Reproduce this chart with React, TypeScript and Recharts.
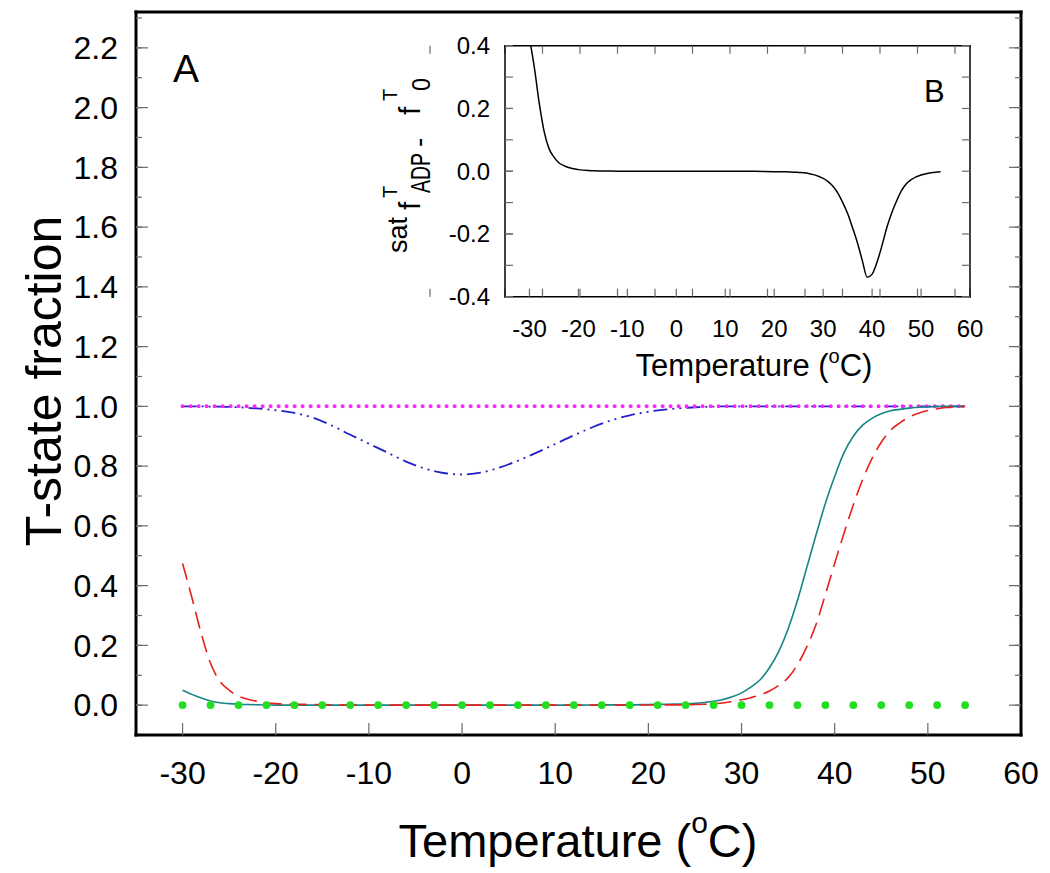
import React from "react";
import { ComposedChart, Line, XAxis, YAxis } from "recharts";

const FONT = "'Liberation Sans', Arial, Helvetica, sans-serif";

const temps = [
  -30, -29, -28, -27, -26, -25, -24, -23, -22, -21, -20,
  -18, -16, -14, -12, -10, -8, -6, -4, -2, 0, 2, 4, 6, 8, 10, 12, 14, 16, 18, 20, 22,
  24, 25, 26, 27, 28, 29, 30, 31, 32, 33, 34, 35, 36, 37, 38, 39, 40, 41, 42, 43, 44, 45, 46, 47, 48, 49, 50, 51, 52, 53, 54,
];

// panel A, teal solid
const fT0 = [
  0.05, 0.036, 0.024, 0.014, 0.008, 0.005, 0.003, 0.002, 0.001, 0.0005, 0,
  0, 0, 0, 0, 0, 0, 0, 0, 0, 0, 0, 0, 0, 0, 0, 0, 0.0005, 0.001, 0.001, 0.002, 0.003,
  0.004, 0.006, 0.009, 0.013, 0.019, 0.028, 0.041, 0.06, 0.085, 0.125, 0.18, 0.255, 0.35, 0.46, 0.57, 0.675, 0.765, 0.845, 0.9, 0.937, 0.96, 0.975, 0.985, 0.99, 0.994, 0.997, 0.998, 0.999, 1, 1, 1,
];

// panel A, red dashed
const fADP = [
  0.474, 0.36, 0.24, 0.14, 0.08, 0.05, 0.03, 0.02, 0.013, 0.008, 0.005,
  0.003, 0.002, 0.001, 0.0005, 0, 0, 0, 0, 0, 0, 0, 0, 0, 0, 0, 0, 0, 0, 0, 0.0005, 0.001,
  0.001, 0.002, 0.003, 0.005, 0.007, 0.012, 0.018, 0.025, 0.034, 0.047, 0.066, 0.092, 0.135, 0.195, 0.27, 0.37, 0.475, 0.575, 0.67, 0.755, 0.825, 0.88, 0.92, 0.945, 0.964, 0.977, 0.986, 0.992, 0.996, 0.998, 1.0,
];

// panel A, blue dash-dot-dot
const fDip = [
  1, 1, 1, 0.999, 0.999, 0.998, 0.997, 0.995, 0.993, 0.99, 0.987,
  0.978, 0.962, 0.936, 0.905, 0.875, 0.845, 0.815, 0.792, 0.777, 0.772, 0.778, 0.795, 0.818, 0.845, 0.874, 0.903, 0.93, 0.953, 0.97, 0.982, 0.99,
  0.995, 0.997, 0.998, 0.999, 1, 1, 1, 1, 1, 1, 1, 1, 1, 1, 1, 1, 1, 1, 1, 1, 1, 1, 1, 1, 1, 1, 1, 1, 1, 1, 1,
];

// panel A, magenta dotted
const flatT = [-30, 54];
const flatVals = [1.0, 1.0];

// panel A, green dots
const dotT = [-30, -27, -24, -21, -18, -15, -12, -9, -6, -3, 0, 3, 6, 9, 12, 15, 18, 21, 24, 27, 30, 33, 36, 39, 42, 45, 48, 51, 54];
const dotVals = [0, 0, 0, 0, 0, 0, 0, 0, 0, 0, 0, 0, 0, 0, 0, 0, 0, 0, 0, 0, 0, 0, 0, 0, 0, 0, 0, 0, 0];

// panel B (inset)
const satDiff = [
  0.424, 0.33, 0.216, 0.126, 0.072, 0.045, 0.027, 0.018, 0.012, 0.0075, 0.005,
  0.002, 0.001, 0.0005, 0, 0, 0, 0, 0, 0, 0, 0, 0, 0, 0, 0, 0, 0, -0.0005, -0.001, -0.0015, -0.002,
  -0.003, -0.004, -0.005, -0.007, -0.011, -0.016, -0.023, -0.033, -0.048, -0.07, -0.1, -0.135, -0.18, -0.228, -0.285, -0.338, -0.328, -0.29, -0.238, -0.18, -0.133, -0.095, -0.062, -0.04, -0.027, -0.018, -0.012, -0.008, -0.005, -0.003, -0.002,
];

const xMajor = [-30, -20, -10, 0, 10, 20, 30, 40, 50, 60];
const xMinor = [-30, -25, -20, -15, -10, -5, 0, 5, 10, 15, 20, 25, 30, 35, 40, 45, 50, 55, 60];
const yMajor = [0, 0.2, 0.4, 0.6, 0.8, 1.0, 1.2, 1.4, 1.6, 1.8, 2.0, 2.2];
const yMinor = [0, 0.1, 0.2, 0.3, 0.4, 0.5, 0.6, 0.7, 0.8, 0.9, 1.0, 1.1, 1.2, 1.3, 1.4, 1.5, 1.6, 1.7, 1.8, 1.9, 2.0, 2.1, 2.2, 2.3];
const insetYMajor = [-0.4, -0.2, 0, 0.2, 0.4];
const insetYMinor = [-0.4, -0.3, -0.2, -0.1, 0, 0.1, 0.2, 0.3, 0.4];

const mainRows = temps.map((t, i) => ({ t, teal: fT0[i], red: fADP[i], blue: fDip[i] }));
const flatRows = flatT.map((t, i) => ({ t, v: flatVals[i] }));
const dotRows = dotT.map((t, i) => ({ t, v: dotVals[i] }));
const insetRows = temps.map((t, i) => ({ t, d: satDiff[i] }));

const mainFrame = { stroke: "#000", strokeWidth: 3, strokeLinecap: "square" as const };
const insetFrame = { stroke: "#000", strokeWidth: 1.5, strokeLinecap: "square" as const };
const tickLn = { stroke: "#6a6a6a", strokeWidth: 1.2 };
const X_DOM: [number, number] = [-35, 60];
const Y_DOM: [number, number] = [-0.1, 2.32];
const B_DOM: [number, number] = [-0.4, 0.4];

const fmt1 = (v: number) => v.toFixed(1);
// tick-only axes: keep the tick lines, draw no label
const noLabel = () => <g />;

export default function App() {
  return (
    <div style={{ position: "absolute", left: 0, top: 0, width: 1050, height: 873, background: "#fff", fontFamily: FONT }}>
      <div style={{ position: "absolute", left: 0, top: 0 }}>
        <ComposedChart width={1050} height={873} margin={{ top: 11, right: 28, bottom: 78, left: 56 }}>
          <XAxis xAxisId="x" type="number" dataKey="t" domain={X_DOM} allowDataOverflow ticks={xMajor} interval={0}
            height={60} tickSize={-12} tickMargin={38} tickLine={tickLn} axisLine={mainFrame}
            tick={{ fontSize: 32, fill: "#000", fontFamily: FONT }} />
          <XAxis xAxisId="xMin" type="number" domain={X_DOM} allowDataOverflow ticks={xMinor} interval={0}
            mirror height={1} tickSize={6} tick={noLabel} tickLine={tickLn} axisLine={false} />
          <XAxis xAxisId="xTop" orientation="top" type="number" domain={X_DOM} allowDataOverflow ticks={xMajor} interval={0}
            height={1} tickSize={-12} tick={noLabel} tickLine={tickLn} axisLine={mainFrame} />
          <XAxis xAxisId="xTopMin" orientation="top" type="number" domain={X_DOM} allowDataOverflow ticks={xMinor} interval={0}
            mirror height={1} tickSize={6} tick={noLabel} tickLine={tickLn} axisLine={false} />
          <YAxis yAxisId="y" type="number" domain={Y_DOM} allowDataOverflow ticks={yMajor} interval={0}
            width={80} tickSize={-12} tickMargin={30} tickFormatter={fmt1} tickLine={tickLn} axisLine={mainFrame}
            tick={{ fontSize: 32, fill: "#000", fontFamily: FONT }} />
          <YAxis yAxisId="yMin" type="number" domain={Y_DOM} allowDataOverflow ticks={yMinor} interval={0}
            mirror width={1} tickSize={6} tick={noLabel} tickLine={tickLn} axisLine={false} />
          <YAxis yAxisId="yR" orientation="right" type="number" domain={Y_DOM} allowDataOverflow ticks={yMajor} interval={0}
            width={1} tickSize={-12} tick={noLabel} tickLine={tickLn} axisLine={mainFrame} />
          <YAxis yAxisId="yRMin" orientation="right" type="number" domain={Y_DOM} allowDataOverflow ticks={yMinor} interval={0}
            mirror width={1} tickSize={6} tick={noLabel} tickLine={tickLn} axisLine={false} />

          <Line xAxisId="x" yAxisId="y" data={dotRows} dataKey="v" stroke="none" isAnimationActive={false}
            dot={{ r: 3.9, fill: "#22dd22", stroke: "none" }} activeDot={false} />
          <Line xAxisId="x" yAxisId="y" data={mainRows} dataKey="blue" type="monotone" stroke="#2222c8" strokeWidth={1.8}
            strokeDasharray="14 5 2 5 2 5" dot={false} activeDot={false} isAnimationActive={false} />
          <Line xAxisId="x" yAxisId="y" data={flatRows} dataKey="v" type="linear" stroke="#ff22ff" strokeWidth={4}
            strokeDasharray="0 8" strokeLinecap="round" dot={false} activeDot={false} isAnimationActive={false} />
          <Line xAxisId="x" yAxisId="y" data={mainRows} dataKey="teal" type="monotone" stroke="#178585" strokeWidth={1.6}
            dot={false} activeDot={false} isAnimationActive={false} />
          <Line xAxisId="x" yAxisId="y" data={mainRows} dataKey="red" type="monotone" stroke="#e8201e" strokeWidth={1.6}
            strokeDasharray="17 8" dot={false} activeDot={false} isAnimationActive={false} />
        </ComposedChart>
      </div>

      <div style={{ position: "absolute", left: 400, top: 0 }}>
        <ComposedChart width={600} height={400} data={insetRows} margin={{ top: 44.7, right: 29, bottom: 63.3, left: 45 }}>
          <XAxis xAxisId="x" type="number" dataKey="t" domain={X_DOM} allowDataOverflow ticks={xMajor} interval={0}
            height={40} tickSize={-8} tickMargin={31} tickLine={tickLn} axisLine={insetFrame}
            tick={{ fontSize: 24, fill: "#000", fontFamily: FONT }} />
          <XAxis xAxisId="xMin" type="number" domain={X_DOM} allowDataOverflow ticks={xMinor} interval={0}
            mirror height={1} tickSize={8} tick={noLabel} tickLine={tickLn} axisLine={false} />
          <XAxis xAxisId="xTop" orientation="top" type="number" domain={X_DOM} allowDataOverflow ticks={xMinor} interval={0}
            height={1} tickSize={-8} tick={noLabel} tickLine={tickLn} axisLine={insetFrame} />
          <YAxis yAxisId="y" type="number" domain={B_DOM} allowDataOverflow ticks={insetYMajor} interval={0}
            width={60} tickSize={-8} tickMargin={23} tickFormatter={fmt1} tickLine={tickLn} axisLine={insetFrame}
            tick={{ fontSize: 24, fill: "#000", fontFamily: FONT }} />
          <YAxis yAxisId="yMin" type="number" domain={B_DOM} allowDataOverflow ticks={insetYMinor} interval={0}
            mirror width={1} tickSize={8} tick={noLabel} tickLine={tickLn} axisLine={false} />
          <YAxis yAxisId="yR" orientation="right" type="number" domain={B_DOM} allowDataOverflow ticks={insetYMinor} interval={0}
            width={1} tickSize={-8} tick={noLabel} tickLine={tickLn} axisLine={insetFrame} />
          <Line xAxisId="x" yAxisId="y" dataKey="d" type="monotone" stroke="#000" strokeWidth={1.5}
            dot={false} activeDot={false} isAnimationActive={false} />
        </ComposedChart>
      </div>

      <svg width={1050} height={873} style={{ position: "absolute", left: 0, top: 0, pointerEvents: "none" }} fontFamily={FONT}>
        <text x={173} y={82} fontSize={39}>A</text>
        <text x={924} y={102} fontSize={31}>B</text>
        <text x={578} y={857} fontSize={47} textAnchor="middle">
          Temperature (<tspan fontSize={30} dy={-24}>o</tspan><tspan dy={24}>C)</tspan>
        </text>
        <text transform="translate(61,381) rotate(-90)" fontSize={50} textAnchor="middle">T-state fraction</text>
        <text x={754} y={376} fontSize={31} textAnchor="middle">
          Temperature (<tspan fontSize={20} dy={-13}>o</tspan><tspan dy={13}>C)</tspan>
        </text>
        {/* inset y label, narrow lettering as in the original */}
        <g transform="translate(420,253) rotate(-90)">
          <text x={0} y={-13} fontSize={28} textLength={36} lengthAdjust="spacingAndGlyphs">sat</text>
          <text x={43} y={0} fontSize={30}>f</text>
          <text x={55} y={-23} fontSize={20}>T</text>
          <text x={60} y={10} fontSize={28} textLength={40} lengthAdjust="spacingAndGlyphs">ADP</text>
          <text x={106} y={8} fontSize={28}>-</text>
          <text x={138} y={0} fontSize={30}>f</text>
          <text x={152} y={-23} fontSize={20}>T</text>
          <text x={162} y={10} fontSize={26} textLength={13} lengthAdjust="spacingAndGlyphs">0</text>
        </g>
      </svg>
    </div>
  );
}
